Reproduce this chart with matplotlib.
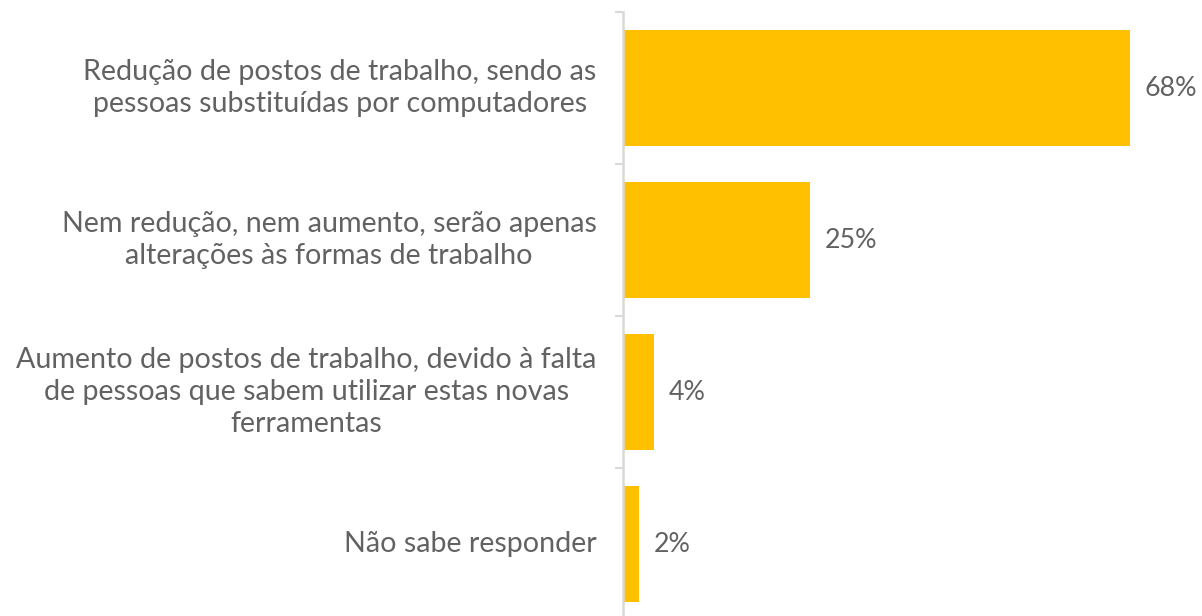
import matplotlib

matplotlib.use("Agg")
import matplotlib.pyplot as plt   # noqa: E402

categories = [
    "Redução de postos de trabalho, sendo as\npessoas substituídas por computadores",
    "Nem redução, nem aumento, serão apenas\nalterações às formas de trabalho",
    "Aumento de postos de trabalho, devido à falta\nde pessoas que sabem utilizar estas novas\nferramentas",
    "Não sabe responder",
]
values = [68, 25, 4, 2]
value_labels = ["68%", "25%", "4%", "2%"]

BAR = "#FFC000"
TEXT = "#626262"
AXIS = "#D9D9D9"

plt.rcParams["font.family"] = ["Lato", "DejaVu Sans"]

W, H = 1202, 616
fig = plt.figure(figsize=(W / 100, H / 100), dpi=100)
ax = fig.add_axes([623 / W, (H - 620) / H, (W - 623) / W, 608 / H])

ypos = list(range(len(values)))
ax.barh(ypos, values, height=0.757, color=BAR, left=0.15)
ax.set_ylim(len(values) - 0.5, -0.5)
ax.set_xlim(0, 579 / 7.44)

for y, v, lab in zip(ypos, values, value_labels):
    ax.annotate(lab, (v, y), xytext=(11.5, 0), textcoords="offset points",
                ha="left", va="center", fontsize=19.3, color=TEXT)

for y, cat in zip(ypos, categories):
    ax.annotate(cat, (0, y), xytext=(-19, 0), textcoords="offset points",
                ha="right", va="center", multialignment="center",
                fontsize=20.6, color=TEXT, linespacing=1.27)

for s in ["top", "right", "bottom"]:
    ax.spines[s].set_visible(False)
ax.spines["left"].set_color(AXIS)
ax.spines["left"].set_linewidth(1.8)
ax.set_xticks([])
ax.set_yticks([-0.5, 0.5, 1.5, 2.5])
ax.set_yticklabels([])
ax.tick_params(axis="y", length=6, width=1.5, color=AXIS)

fig.savefig("out.png", dpi=100)
